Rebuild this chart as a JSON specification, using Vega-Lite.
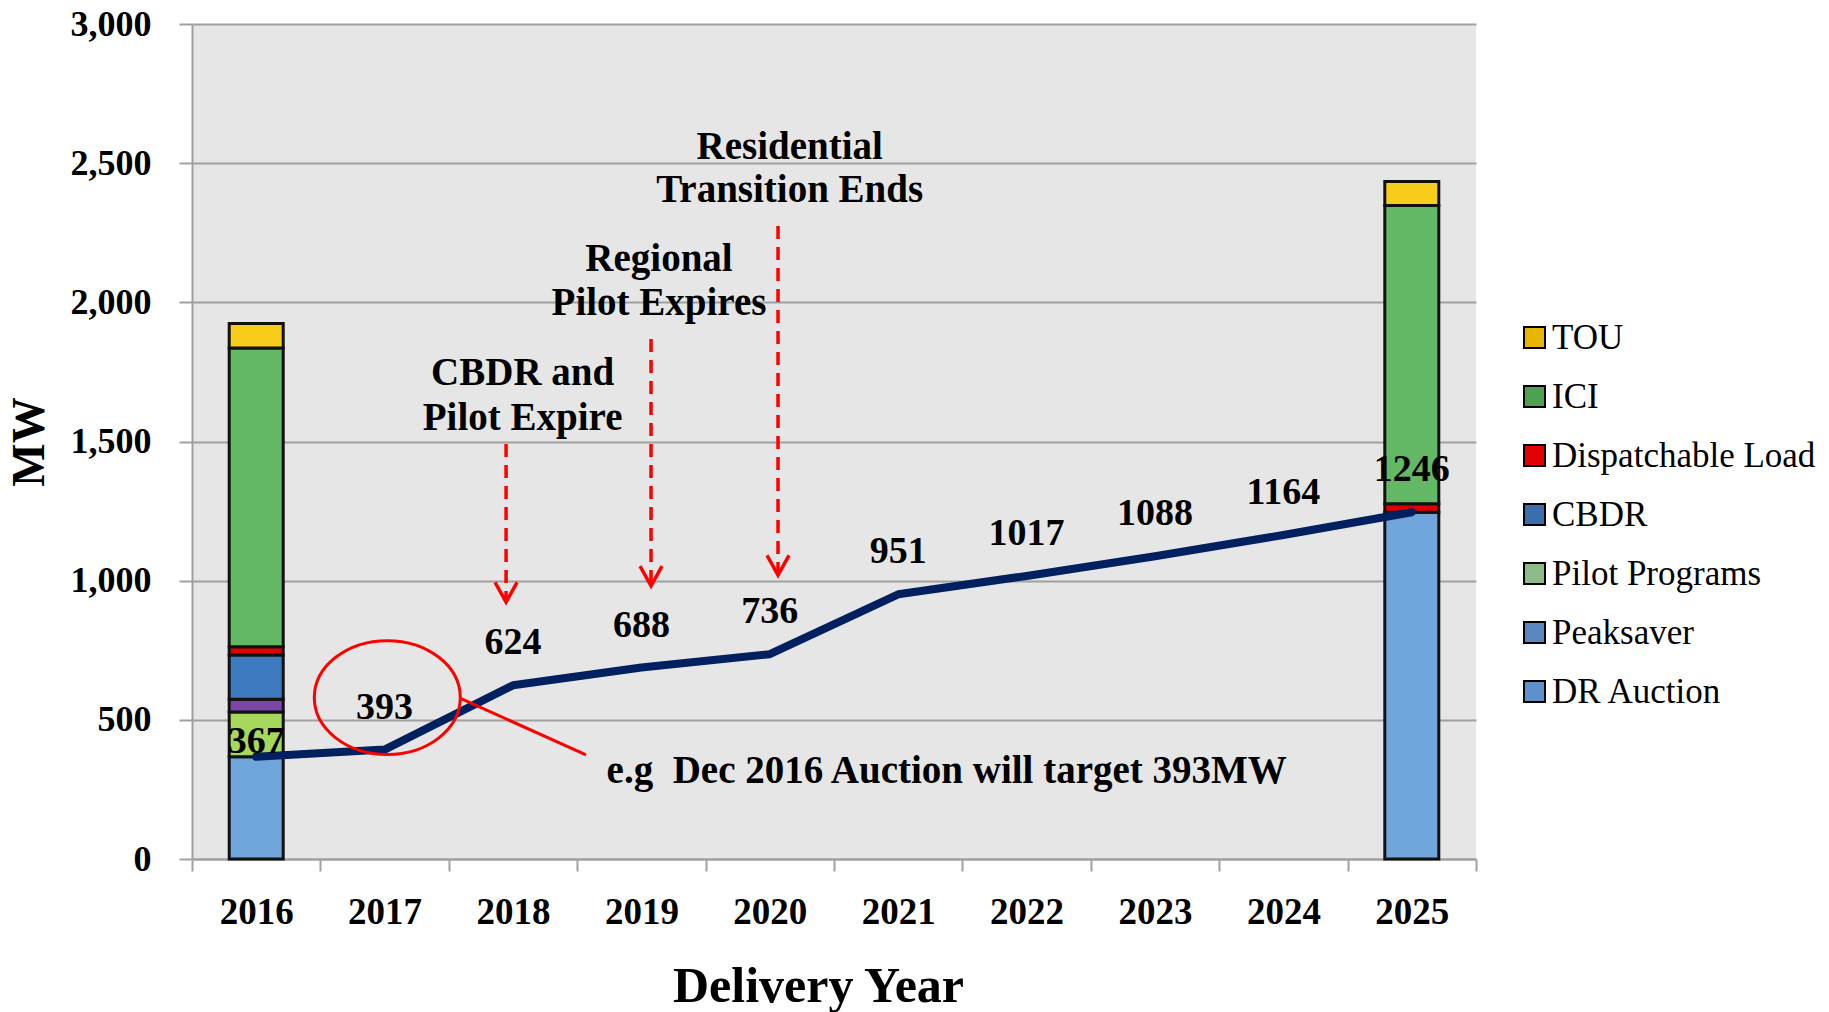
{
  "$schema": "https://vega.github.io/schema/vega-lite/v6.json",
  "width": 1284,
  "height": 835,
  "autosize": {"type": "none"},
  "padding": {"left": 192, "top": 24, "right": 353, "bottom": 153},
  "background": "#FFFFFF",
  "datasets": {
    "bars": [
      {"year": 2016, "program": "DR Auction", "mw": 367},
      {"year": 2016, "program": "Peaksaver", "mw": 161},
      {"year": 2016, "program": "Pilot Programs", "mw": 46},
      {"year": 2016, "program": "CBDR", "mw": 159},
      {"year": 2016, "program": "Dispatchable Load", "mw": 30},
      {"year": 2016, "program": "ICI", "mw": 1073},
      {"year": 2016, "program": "TOU", "mw": 88},
      {"year": 2025, "program": "DR Auction", "mw": 1246},
      {"year": 2025, "program": "Dispatchable Load", "mw": 30},
      {"year": 2025, "program": "ICI", "mw": 1072},
      {"year": 2025, "program": "TOU", "mw": 86}
    ],
    "target": [
      {"year": 2016, "mw": 367},
      {"year": 2017, "mw": 393},
      {"year": 2018, "mw": 624},
      {"year": 2019, "mw": 688},
      {"year": 2020, "mw": 736},
      {"year": 2021, "mw": 951},
      {"year": 2022, "mw": 1017},
      {"year": 2023, "mw": 1088},
      {"year": 2024, "mw": 1164},
      {"year": 2025, "mw": 1246}
    ],
    "arrows": [
      {"year": 2017.946, "mw": 1491, "mw2": 923},
      {"year": 2019.075, "mw": 1868, "mw2": 981},
      {"year": 2020.064, "mw": 2274, "mw2": 1020}
    ],
    "notes": [
      {"year": 2018.075, "mw": 1746, "label": "CBDR and"},
      {"year": 2018.075, "mw": 1584, "label": "Pilot Expire"},
      {"year": 2019.137, "mw": 2156, "label": "Regional"},
      {"year": 2019.137, "mw": 1996, "label": "Pilot Expires"},
      {"year": 2020.155, "mw": 2558, "label": "Residential"},
      {"year": 2020.155, "mw": 2404, "label": "Transition Ends"}
    ],
    "circle": [{"year": 2017.021, "mw": 580}],
    "callout": [{"year": 2017.587, "mw": 578, "year2": 2018.569, "mw2": 374}],
    "callouttext": [{"year": 2018.729, "mw": 316, "label": "e.g\u00a0 Dec 2016 Auction will target 393MW"}]
  },
  "layer": [
    {
      "data": {"name": "bars"},
      "transform": [{"calculate": "indexof(['DR Auction','Peaksaver','Pilot Programs','CBDR','Dispatchable Load','ICI','TOU'], datum.program)", "as": "stackpos"}],
      "mark": {"type": "bar", "size": 54, "stroke": "#111111", "strokeWidth": 3},
      "encoding": {
        "x": {
          "field": "year", "type": "quantitative",
          "scale": {"domain": [2015.5, 2025.5], "nice": false, "zero": false, "padding": 0},
          "axis": {"orient": "bottom", "values": [2016, 2017, 2018, 2019, 2020, 2021, 2022, 2023, 2024, 2025], "format": "d", "ticks": false, "grid": false, "labelPadding": 35, "labelFontSize": 37, "title": "Delivery Year", "titleFontSize": 50, "titlePadding": 31, "titleX": 626}
        },
        "y": {
          "field": "mw", "type": "quantitative", "stack": "zero",
          "scale": {"domain": [0, 3000], "nice": false},
          "axis": {"format": ",d", "title": "MW"}
        },
        "order": {"field": "stackpos", "type": "quantitative", "sort": "ascending"},
        "color": {
          "field": "program", "type": "nominal",
          "scale": {
            "domain": ["DR Auction", "Peaksaver", "Pilot Programs", "CBDR", "Dispatchable Load", "ICI", "TOU"],
            "range": ["#6FA5DA", "#A6D85C", "#7B48A8", "#3E7AC0", "#E00000", "#63B865", "#F7CC1A"]
          },
          "legend": null
        }
      }
    },
    {
      "data": {"name": "bars"},
      "mark": {"type": "bar", "size": 54, "opacity": 0, "strokeWidth": 0},
      "encoding": {
        "x": {
          "field": "year", "type": "quantitative",
          "axis": {"orient": "bottom", "values": [2015.5, 2016.5, 2017.5, 2018.5, 2019.5, 2020.5, 2021.5, 2022.5, 2023.5, 2024.5, 2025.5], "labels": false, "ticks": true, "tickSize": 12, "domain": false, "grid": false, "title": null}
        },
        "y": {"field": "mw", "type": "quantitative", "stack": "zero", "title": "MW"},
        "fill": {
          "field": "program", "type": "nominal",
          "scale": {
            "domain": ["TOU", "ICI", "Dispatchable Load", "CBDR", "Pilot Programs", "Peaksaver", "DR Auction"],
            "range": ["#E9B500", "#4FA050", "#E00000", "#3A6FAE", "#8DBB8A", "#5A88BE", "#5E90CC"]
          },
          "legend": {
            "orient": "none", "legendX": 1325, "legendY": 296, "title": null,
            "symbolType": "square", "symbolSize": 441, "symbolStrokeColor": "#000000", "symbolStrokeWidth": 2, "symbolOpacity": 1,
            "labelFont": "Liberation Serif", "labelFontSize": 35, "labelFontWeight": "normal", "labelColor": "#000000",
            "labelOffset": 0, "rowPadding": 23, "labelLimit": 500
          }
        }
      }
    },
    {
      "data": {"name": "target"},
      "mark": {"type": "line", "color": "#002060", "strokeWidth": 8, "strokeCap": "round", "strokeJoin": "round"},
      "encoding": {
        "x": {"field": "year", "type": "quantitative", "axis": null},
        "y": {"field": "mw", "type": "quantitative", "title": "MW"}
      }
    },
    {
      "data": {"name": "target"},
      "transform": [{"filter": "datum.year != 2016"}],
      "mark": {"type": "text", "font": "Liberation Serif", "fontWeight": "bold", "fontSize": 38, "color": "#000000", "baseline": "middle", "dy": -42},
      "encoding": {
        "x": {"field": "year", "type": "quantitative", "axis": null},
        "y": {"field": "mw", "type": "quantitative", "title": "MW"},
        "text": {"field": "mw", "type": "quantitative", "format": "d"}
      }
    },
    {
      "data": {"name": "target"},
      "transform": [{"filter": "datum.year == 2016"}],
      "mark": {"type": "text", "font": "Liberation Serif", "fontWeight": "bold", "fontSize": 38, "color": "#000000", "baseline": "middle", "dy": -15},
      "encoding": {
        "x": {"field": "year", "type": "quantitative", "axis": null},
        "y": {"field": "mw", "type": "quantitative", "title": "MW"},
        "text": {"field": "mw", "type": "quantitative", "format": "d"}
      }
    },
    {
      "data": {"name": "arrows"},
      "mark": {"type": "rule", "color": "#FF0000", "strokeWidth": 3.5, "strokeDash": [13, 8]},
      "encoding": {
        "x": {"field": "year", "type": "quantitative", "axis": null},
        "y": {"field": "mw", "type": "quantitative", "title": "MW"},
        "y2": {"field": "mw2"}
      }
    },
    {
      "data": {"name": "arrows"},
      "mark": {"type": "point", "shape": "M-1,-1.8L0,0L1,-1.8", "filled": false, "stroke": "#FF0000", "strokeWidth": 3.5, "size": 484, "opacity": 1},
      "encoding": {
        "x": {"field": "year", "type": "quantitative", "axis": null},
        "y": {"field": "mw2", "type": "quantitative", "title": "MW"}
      }
    },
    {
      "data": {"name": "circle"},
      "mark": {"type": "point", "shape": "M-1,0A1,0.78,0,1,1,1,0A1,0.78,0,1,1,-1,0Z", "filled": false, "stroke": "#FF0000", "strokeWidth": 3, "size": 21316, "opacity": 1},
      "encoding": {
        "x": {"field": "year", "type": "quantitative", "axis": null},
        "y": {"field": "mw", "type": "quantitative", "title": "MW"}
      }
    },
    {
      "data": {"name": "callout"},
      "mark": {"type": "rule", "color": "#FF0000", "strokeWidth": 3},
      "encoding": {
        "x": {"field": "year", "type": "quantitative", "axis": null},
        "x2": {"field": "year2"},
        "y": {"field": "mw", "type": "quantitative", "title": "MW"},
        "y2": {"field": "mw2"}
      }
    },
    {
      "data": {"name": "notes"},
      "mark": {"type": "text", "font": "Liberation Serif", "fontWeight": "bold", "fontSize": 39, "color": "#000000", "align": "center", "baseline": "middle"},
      "encoding": {
        "x": {"field": "year", "type": "quantitative", "axis": null},
        "y": {"field": "mw", "type": "quantitative", "title": "MW"},
        "text": {"field": "label"}
      }
    },
    {
      "data": {"name": "callouttext"},
      "mark": {"type": "text", "font": "Liberation Serif", "fontWeight": "bold", "fontSize": 39, "color": "#000000", "align": "left", "baseline": "middle"},
      "encoding": {
        "x": {"field": "year", "type": "quantitative", "axis": null},
        "y": {"field": "mw", "type": "quantitative", "title": "MW"},
        "text": {"field": "label"}
      }
    }
  ],
  "resolve": {"axis": {"x": "independent"}},
  "config": {
    "font": "Liberation Serif",
    "view": {"fill": "#E6E6E6", "stroke": null},
    "axis": {
      "domainColor": "#A0A0A0", "domainWidth": 2,
      "tickColor": "#A0A0A0", "tickWidth": 2,
      "gridColor": "#A0A0A0", "gridWidth": 1.8,
      "labelFont": "Liberation Serif", "labelFontWeight": "bold", "labelFontSize": 36, "labelColor": "#000000",
      "titleFont": "Liberation Serif", "titleFontWeight": "bold", "titleFontSize": 46, "titleColor": "#000000"
    },
    "axisY": {"tickCount": 6, "tickSize": 13, "labelPadding": 28, "titlePadding": 17, "grid": true}
  }
}
